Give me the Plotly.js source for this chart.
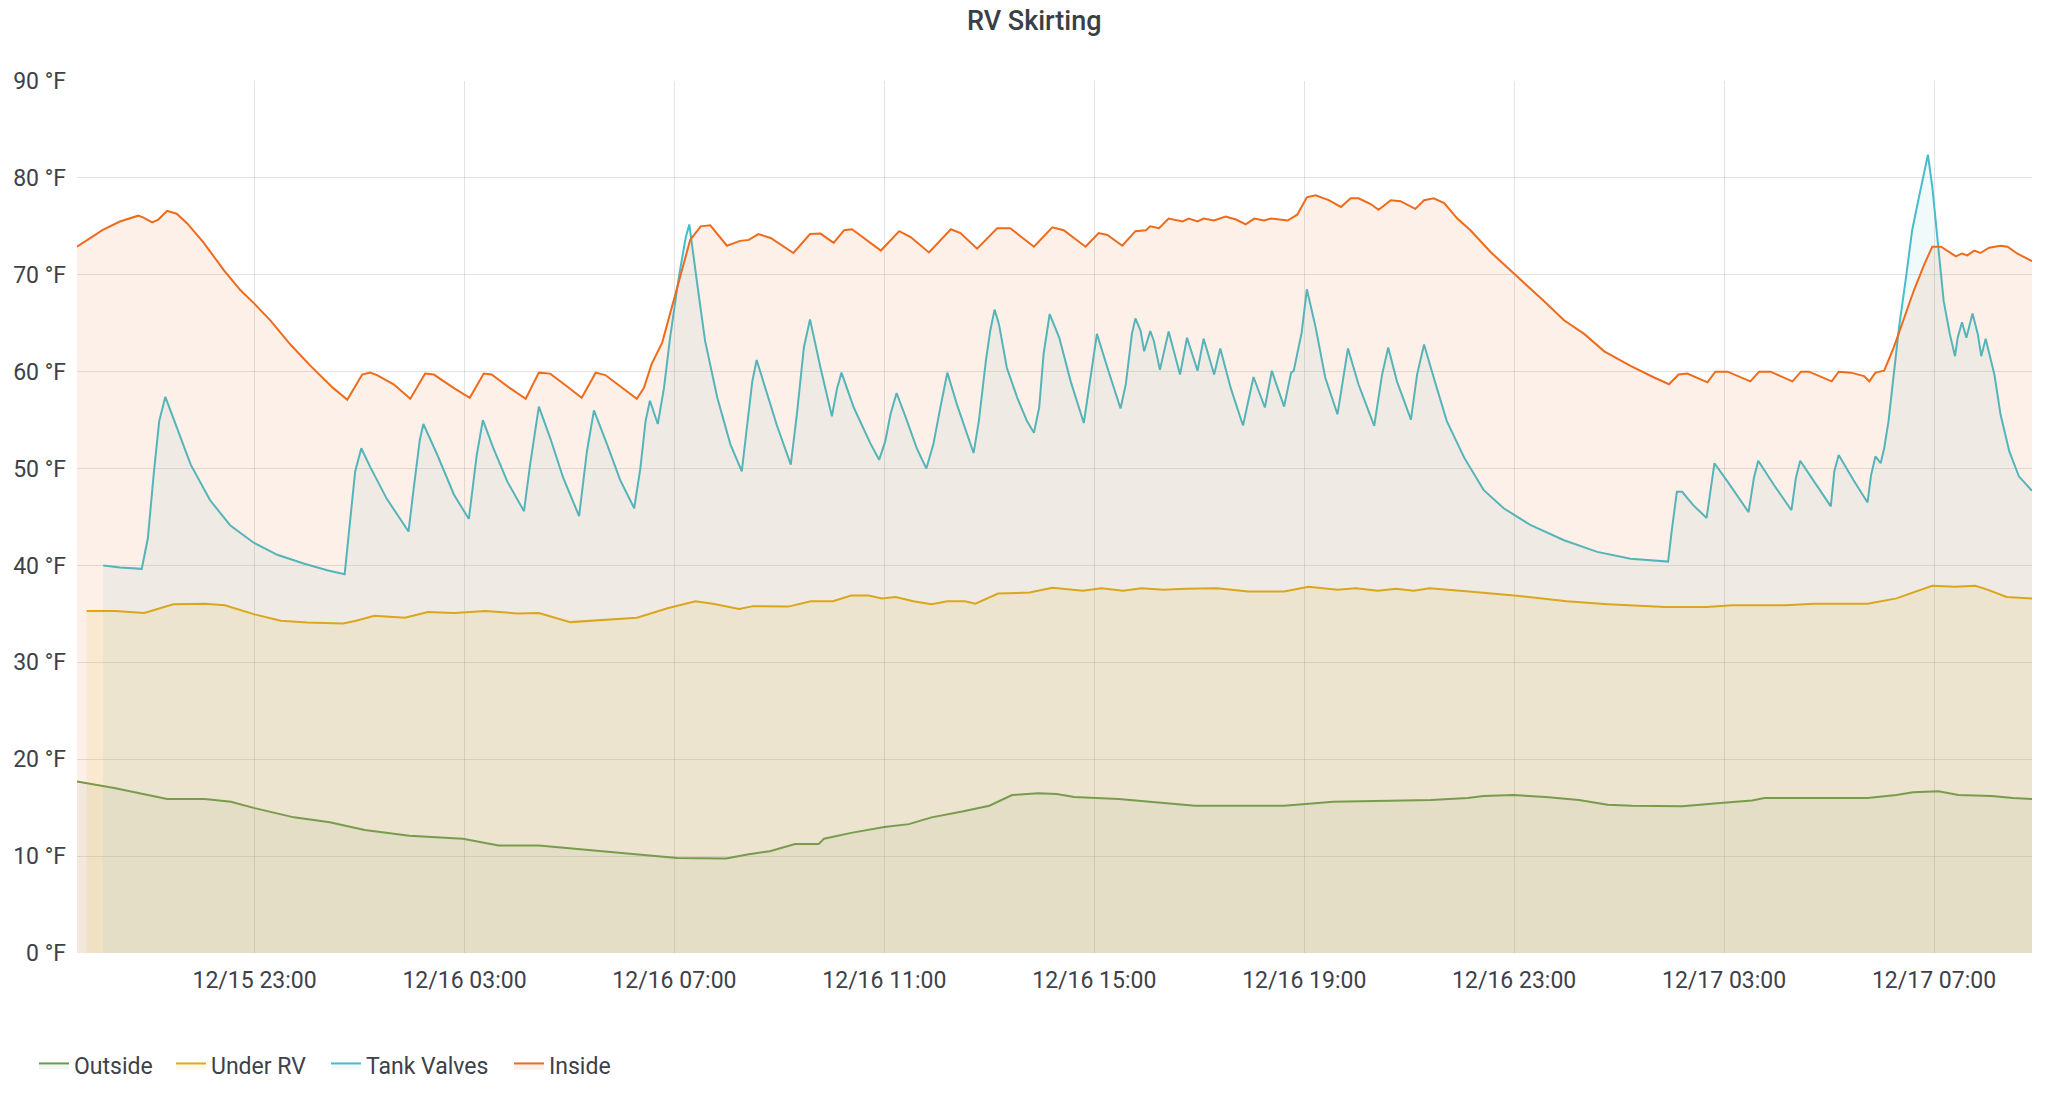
<!DOCTYPE html>
<html>
<head>
<meta charset="utf-8">
<script src="https://cdn.plot.ly/plotly-3.0.1.min.js"></script>
<style>
  html, body { margin: 0; padding: 0; background: #ffffff; }
  #RVChart { width: 2048px; height: 1096px; }
</style>
</head>
<body>
<div id="RVChart"></div>
<script>
// readings (times are MM-DD HH:MM)
var YEAR = '2019';

var outsideTime = [
  '12-15 19:37','12-15 20:21','12-15 21:20','12-15 22:03','12-15 22:33','12-15 23:00','12-15 23:45','12-16 00:26',
  '12-16 01:06','12-16 01:57','12-16 02:58','12-16 03:39','12-16 04:25','12-16 05:16','12-16 06:07','12-16 07:03',
  '12-16 07:59','12-16 08:25','12-16 08:49','12-16 09:00','12-16 09:18','12-16 09:45','12-16 09:51','12-16 10:22',
  '12-16 11:00','12-16 11:28','12-16 11:54','12-16 12:29','12-16 13:00','12-16 13:26','12-16 13:56','12-16 14:17',
  '12-16 14:37','12-16 15:28','12-16 16:19','12-16 16:55','12-16 17:46','12-16 18:37','12-16 19:33','12-16 20:34',
  '12-16 21:25','12-16 22:07','12-16 22:25','12-16 22:59','12-16 23:36','12-17 00:14','12-17 00:47','12-17 01:15',
  '12-17 02:12','12-17 02:59','12-17 03:32','12-17 03:46','12-17 04:43','12-17 05:44','12-17 06:17','12-17 06:36',
  '12-17 07:05','12-17 07:28','12-17 08:06','12-17 08:30','12-17 08:52'];
var outsideTemp = [
  17.7, 17.0, 15.9, 15.9, 15.6, 14.95, 14.0, 13.5,
  12.7, 12.1, 11.8, 11.1, 11.1, 10.7, 10.3, 9.8,
  9.75, 10.2, 10.5, 10.8, 11.25, 11.25, 11.8, 12.4,
  13.0, 13.3, 14.0, 14.6, 15.2, 16.3, 16.5, 16.4,
  16.1, 15.9, 15.5, 15.2, 15.2, 15.2, 15.6, 15.75,
  15.8, 16.0, 16.2, 16.3, 16.1, 15.8, 15.3, 15.2,
  15.15, 15.5, 15.75, 16.0, 16.0, 16.0, 16.3, 16.6,
  16.7, 16.3, 16.2, 16.0, 15.9];

var underTime = [
  '12-15 19:48','12-15 20:21','12-15 20:54','12-15 21:27','12-15 22:03','12-15 22:26','12-15 23:00','12-15 23:30',
  '12-16 00:00','12-16 00:41','12-16 00:56','12-16 01:17','12-16 01:52','12-16 02:18','12-16 02:48','12-16 03:24',
  '12-16 04:00','12-16 04:25','12-16 05:01','12-16 05:42','12-16 06:17','12-16 06:53','12-16 07:24','12-16 07:44',
  '12-16 08:14','12-16 08:30','12-16 08:49','12-16 09:10','12-16 09:36','12-16 10:01','12-16 10:22','12-16 10:42',
  '12-16 10:57','12-16 11:13','12-16 11:33','12-16 11:54','12-16 12:12','12-16 12:32','12-16 12:44','12-16 13:10',
  '12-16 13:46','12-16 14:12','12-16 14:47','12-16 15:08','12-16 15:33','12-16 15:54','12-16 16:19','12-16 16:45',
  '12-16 17:20','12-16 17:56','12-16 18:37','12-16 19:05','12-16 19:38','12-16 19:59','12-16 20:24','12-16 20:45',
  '12-16 21:05','12-16 21:23','12-16 22:02','12-16 23:00','12-17 00:00','12-17 00:47','12-17 01:53','12-17 02:40',
  '12-17 03:09','12-17 04:10','12-17 04:43','12-17 05:44','12-17 06:17','12-17 06:36','12-17 06:58','12-17 07:24',
  '12-17 07:47','12-17 08:01','12-17 08:23','12-17 08:52'];
var underTemp = [
  35.3, 35.3, 35.1, 36.0, 36.05, 35.9, 34.95, 34.3,
  34.1, 34.0, 34.3, 34.8, 34.6, 35.2, 35.1, 35.3,
  35.05, 35.1, 34.15, 34.4, 34.6, 35.6, 36.3, 36.05,
  35.5, 35.8, 35.8, 35.75, 36.3, 36.3, 36.9, 36.9,
  36.6, 36.75, 36.3, 36.0, 36.3, 36.3, 36.05, 37.1,
  37.2, 37.7, 37.4, 37.65, 37.4, 37.65, 37.5, 37.6,
  37.65, 37.3, 37.3, 37.8, 37.5, 37.65, 37.4, 37.6,
  37.4, 37.65, 37.35, 36.9, 36.3, 36.0, 35.7, 35.7,
  35.9, 35.9, 36.05, 36.05, 36.6, 37.2, 37.9, 37.8,
  37.9, 37.5, 36.75, 36.6];

var tankTime = [
  '12-15 20:07','12-15 20:26','12-15 20:51','12-15 20:58','12-15 21:05','12-15 21:11','12-15 21:18','12-15 21:31',
  '12-15 21:47','12-15 22:09','12-15 22:32','12-15 22:59','12-15 23:26','12-15 23:56',
  '12-16 00:23','12-16 00:43','12-16 00:49','12-16 00:55','12-16 01:02','12-16 01:12','12-16 01:31','12-16 01:56',
  '12-16 02:02','12-16 02:09','12-16 02:13','12-16 02:29','12-16 02:48','12-16 03:05','12-16 03:14','12-16 03:21',
  '12-16 03:33','12-16 03:49','12-16 04:08','12-16 04:15','12-16 04:25','12-16 04:38','12-16 04:53','12-16 05:11',
  '12-16 05:20','12-16 05:28','12-16 05:43','12-16 05:58','12-16 06:14','12-16 06:21','12-16 06:27','12-16 06:32',
  '12-16 06:41','12-16 06:48','12-16 06:55','12-16 07:05','12-16 07:13','12-16 07:17','12-16 07:26','12-16 07:35',
  '12-16 07:49','12-16 08:04','12-16 08:17','12-16 08:23','12-16 08:29','12-16 08:34','12-16 08:44','12-16 08:57',
  '12-16 09:13','12-16 09:20','12-16 09:28','12-16 09:35','12-16 09:47','12-16 10:00','12-16 10:06','12-16 10:11',
  '12-16 10:25','12-16 10:44','12-16 10:54','12-16 11:01','12-16 11:07','12-16 11:14','12-16 11:26','12-16 11:37',
  '12-16 11:48','12-16 11:56','12-16 12:04','12-16 12:12','12-16 12:23','12-16 12:35','12-16 12:42','12-16 12:48',
  '12-16 12:56','12-16 13:01','12-16 13:06','12-16 13:11','12-16 13:20','12-16 13:32','12-16 13:43','12-16 13:51',
  '12-16 13:57','12-16 14:02','12-16 14:09','12-16 14:20','12-16 14:33','12-16 14:48','12-16 14:56','12-16 15:03',
  '12-16 15:15','12-16 15:30','12-16 15:36','12-16 15:43','12-16 15:47','12-16 15:53','12-16 15:57','12-16 16:04',
  '12-16 16:08','12-16 16:15','12-16 16:25','12-16 16:31','12-16 16:38','12-16 16:46','12-16 16:52','12-16 16:58',
  '12-16 17:05','12-16 17:10','12-16 17:17','12-16 17:24','12-16 17:36','12-16 17:50','12-16 17:57','12-16 18:02',
  '12-16 18:15','12-16 18:23','12-16 18:27','12-16 18:37','12-16 18:45','12-16 18:48','12-16 18:57','12-16 19:03',
  '12-16 19:13','12-16 19:24','12-16 19:38','12-16 19:45','12-16 19:50','12-16 20:02','12-16 20:20','12-16 20:29',
  '12-16 20:36','12-16 20:46','12-16 21:02','12-16 21:09','12-16 21:17','12-16 21:28','12-16 21:43','12-16 22:03',
  '12-16 22:25','12-16 22:48','12-16 23:19','12-16 23:57',
  '12-17 00:35','12-17 01:13','12-17 01:56','12-17 02:00','12-17 02:04','12-17 02:06','12-17 02:12','12-17 02:25',
  '12-17 02:40','12-17 02:45','12-17 02:49','12-17 03:04','12-17 03:28','12-17 03:34','12-17 03:39','12-17 03:57',
  '12-17 04:17','12-17 04:22','12-17 04:27','12-17 04:43','12-17 05:02','12-17 05:06','12-17 05:11','12-17 05:28',
  '12-17 05:44','12-17 05:48','12-17 05:53','12-17 05:59','12-17 06:03','12-17 06:08','12-17 06:14','12-17 06:20',
  '12-17 06:28','12-17 06:35','12-17 06:43','12-17 06:48','12-17 06:53','12-17 06:58','12-17 07:04','12-17 07:11',
  '12-17 07:18','12-17 07:24','12-17 07:27','12-17 07:32','12-17 07:37','12-17 07:44','12-17 07:50','12-17 07:54',
  '12-17 07:59','12-17 08:09','12-17 08:16','12-17 08:26','12-17 08:37','12-17 08:52'];
var tankTemp = [
  40.0, 39.8, 39.65, 42.8, 49.7, 54.9, 57.4, 54.2,
  50.4, 46.75, 44.15, 42.35, 41.1, 40.2,
  39.5, 39.1, 44.5, 49.7, 52.1, 50.2, 46.9, 43.5,
  48.0, 53.0, 54.6, 51.4, 47.3, 44.8, 51.4, 55.0,
  52.1, 48.65, 45.6, 50.4, 56.4, 53.15, 49.0, 45.1,
  51.8, 56.0, 52.5, 48.8, 45.9, 50.0, 54.9, 57.0,
  54.6, 58.3, 63.5, 69.75, 73.9, 75.2, 69.1, 63.2,
  57.3, 52.5, 49.7, 54.2, 59.0, 61.2, 58.3, 54.5,
  50.4, 55.6, 62.5, 65.4, 60.4, 55.4, 58.3, 59.9,
  56.3, 52.6, 50.9, 52.8, 55.6, 57.8, 54.9, 52.1,
  50.0, 52.5, 56.3, 59.9, 56.6, 53.5, 51.6, 54.9,
  61.1, 64.2, 66.4, 64.9, 60.4, 57.3, 54.9, 53.7,
  56.3, 61.8, 65.95, 63.5, 59.0, 54.7, 59.7, 63.9,
  60.4, 56.2, 58.7, 63.9, 65.5, 64.2, 62.1, 64.2,
  63.2, 60.2, 64.15, 62.1, 59.7, 63.5, 61.8, 60.1,
  63.4, 61.8, 59.7, 62.4, 58.3, 54.45, 57.3, 59.45,
  56.3, 60.1, 59.0, 56.4, 59.9, 60.1, 64.0, 68.5,
  64.6, 59.4, 55.6, 59.7, 62.4, 58.7, 54.4, 59.7,
  62.5, 59.0, 55.05, 59.7, 62.8, 59.4, 54.9, 51.1,
  47.8, 45.9, 44.15, 42.6,
  41.4, 40.7, 40.4, 43.5, 46.5, 47.6, 47.6, 46.2,
  44.9, 48.3, 50.55, 48.65, 45.5, 49.0, 50.8, 48.3,
  45.7, 49.0, 50.8, 48.65, 46.1, 49.7, 51.4, 48.8,
  46.5, 49.3, 51.25, 50.55, 52.1, 54.9, 59.7, 64.6,
  69.75, 74.6, 78.1, 80.3, 82.4, 79.1, 73.6, 67.3,
  63.9, 61.6, 63.5, 65.1, 63.5, 66.0, 63.9, 61.6,
  63.4, 59.7, 55.6, 51.8, 49.2, 47.7];

var insideTime = [
  '12-15 19:37','12-15 19:52','12-15 20:06','12-15 20:26','12-15 20:47','12-15 20:53','12-15 21:03','12-15 21:10',
  '12-15 21:20','12-15 21:31','12-15 21:43','12-15 22:02','12-15 22:25','12-15 22:44','12-15 23:00','12-15 23:18',
  '12-15 23:41',
  '12-16 00:04','12-16 00:30','12-16 00:46','12-16 01:03','12-16 01:12','12-16 01:20','12-16 01:39',
  '12-16 01:58','12-16 02:15','12-16 02:25','12-16 02:48','12-16 03:06','12-16 03:22','12-16 03:31','12-16 03:52',
  '12-16 04:10','12-16 04:25','12-16 04:38','12-16 04:57','12-16 05:14','12-16 05:30','12-16 05:41','12-16 05:58',
  '12-16 06:17','12-16 06:25','12-16 06:34','12-16 06:46','12-16 06:55','12-16 07:07','12-16 07:18','12-16 07:30',
  '12-16 07:41','12-16 08:00','12-16 08:15','12-16 08:25','12-16 08:36','12-16 08:50','12-16 09:16','12-16 09:35',
  '12-16 09:47','12-16 10:02','12-16 10:14','12-16 10:23','12-16 10:56','12-16 11:17','12-16 11:30','12-16 11:51',
  '12-16 12:16','12-16 12:27','12-16 12:46','12-16 13:09','12-16 13:24','12-16 13:51','12-16 14:12','12-16 14:25',
  '12-16 14:50','12-16 15:05','12-16 15:15','12-16 15:32','12-16 15:47','12-16 15:59','12-16 16:04','12-16 16:14',
  '12-16 16:25','12-16 16:41','12-16 16:48','12-16 16:58','12-16 17:05','12-16 17:17','12-16 17:30','12-16 17:42',
  '12-16 17:53','12-16 18:03','12-16 18:14','12-16 18:22','12-16 18:41','12-16 18:52','12-16 19:03','12-16 19:13',
  '12-16 19:28','12-16 19:42','12-16 19:53','12-16 20:02','12-16 20:16','12-16 20:25','12-16 20:39','12-16 20:50',
  '12-16 21:07','12-16 21:17','12-16 21:28','12-16 21:40','12-16 21:55','12-16 22:10','12-16 22:33','12-16 23:00',
  '12-16 23:34','12-16 23:57',
  '12-17 00:20','12-17 00:43','12-17 01:13','12-17 01:40','12-17 01:57','12-17 02:08','12-17 02:18','12-17 02:41',
  '12-17 02:50','12-17 03:04','12-17 03:30','12-17 03:40','12-17 03:53','12-17 04:18','12-17 04:28','12-17 04:37',
  '12-17 05:03','12-17 05:11','12-17 05:25','12-17 05:40','12-17 05:46','12-17 05:53','12-17 06:03','12-17 06:14',
  '12-17 06:26','12-17 06:37','12-17 06:49','12-17 06:58','12-17 07:08','12-17 07:25','12-17 07:32','12-17 07:38',
  '12-17 07:46','12-17 07:53','12-17 08:03','12-17 08:16','12-17 08:24','12-17 08:35','12-17 08:52'];
var insideTemp = [
  72.9, 73.8, 74.6, 75.5, 76.1, 75.9, 75.4, 75.7,
  76.6, 76.3, 75.3, 73.3, 70.45, 68.4, 67.0, 65.3,
  62.8,
  60.6, 58.3, 57.1, 59.7, 59.9, 59.65, 58.7,
  57.2, 59.8, 59.7, 58.3, 57.3, 59.8, 59.7, 58.3,
  57.2, 59.9, 59.8, 58.5, 57.3, 59.9, 59.65, 58.5,
  57.2, 58.3, 60.8, 63.0, 66.0, 70.1, 73.6, 75.0,
  75.1, 73.0, 73.5, 73.6, 74.2, 73.8, 72.25, 74.2,
  74.25, 73.3, 74.6, 74.7, 72.5, 74.5, 73.9, 72.3,
  74.7, 74.3, 72.7, 74.8, 74.8, 72.9, 74.9, 74.6,
  72.9, 74.3, 74.1, 73.0, 74.5, 74.6, 75.0, 74.8,
  75.8, 75.5, 75.8, 75.5, 75.8, 75.6, 76.0, 75.7,
  75.2, 75.8, 75.6, 75.8, 75.6, 76.2, 78.0, 78.2,
  77.7, 77.0, 77.9, 77.9, 77.3, 76.7, 77.7, 77.6,
  76.8, 77.7, 77.9, 77.4, 75.8, 74.6, 72.35, 70.1,
  67.3, 65.3,
  63.9, 62.1, 60.6, 59.4, 58.7, 59.7, 59.8, 58.9,
  60.0, 60.0, 59.0, 60.0, 60.0, 59.0, 60.0, 60.0,
  59.0, 60.0, 59.9, 59.55, 59.0, 59.9, 60.1, 62.5,
  65.6, 68.4, 71.1, 72.9, 72.9, 71.9, 72.2, 72.0,
  72.5, 72.25, 72.8, 73.0, 72.9, 72.2, 71.4];

function stamp(list) {
  return list.map(function (t) { return YEAR + '-' + t; });
}

function series(name, times, temps, color, fill, legendW) {
  return {
    type: 'scatter', mode: 'lines', name: name,
    x: stamp(times), y: temps,
    line: {color: color, width: 2},
    fill: 'tozeroy', fillcolor: fill,
    legendwidth: legendW,
    hoverinfo: 'skip'
  };
}

var data = [
  series('Outside', outsideTime, outsideTemp, '#629E51', 'rgba(98,158,81,0.08)', 92),
  series('Under RV', underTime, underTemp, '#E5AC0E', 'rgba(229,172,14,0.1)', 110),
  series('Tank Valves', tankTime, tankTemp, '#45BDCB', 'rgba(69,189,203,0.08)', 138),
  series('Inside', insideTime, insideTemp, '#EE6B1C', 'rgba(238,107,28,0.1)', 70)
];

var grid = 'rgba(0,0,0,0.11)';

var layout = {
  width: 2048,
  height: 1096,
  margin: {l: 77, r: 16, t: 81, b: 143, autoexpand: false},
  paper_bgcolor: '#ffffff',
  plot_bgcolor: '#ffffff',
  font: {family: 'Roboto', size: 23, color: '#3d4149'},
  title: {
    text: 'RV Skirting',
    font: {family: 'Roboto', size: 27, weight: 500, color: '#3a3f47'},
    xref: 'container', x: 0.505, xanchor: 'center',
    yref: 'container', y: 0.981, yanchor: 'middle'
  },
  showlegend: true,
  legend: {
    orientation: 'h', traceorder: 'normal',
    x: -0.022, xanchor: 'left',
    y: -0.129, yanchor: 'middle',
    font: {family: 'Roboto', size: 23, color: '#3d4149'},
    itemwidth: 30
  },
  xaxis: {
    type: 'date',
    range: [YEAR + '-12-15 19:37', YEAR + '-12-17 08:52'],
    tick0: YEAR + '-12-15 23:00',
    dtick: 4 * 3600 * 1000,
    tickformat: '%m/%d %H:%M',
    showgrid: true, gridcolor: grid, gridwidth: 1,
    zeroline: false, showline: false, ticks: '',
    ticklabelstandoff: 11
  },
  yaxis: {
    range: [0, 90],
    dtick: 10,
    ticksuffix: ' °F',
    showgrid: true, gridcolor: grid, gridwidth: 1,
    zeroline: false, showline: false, ticks: '',
    ticklabelstandoff: 10
  }
};

Plotly.newPlot('RVChart', data, layout, {displayModeBar: false, staticPlot: true});
</script>
</body>
</html>
